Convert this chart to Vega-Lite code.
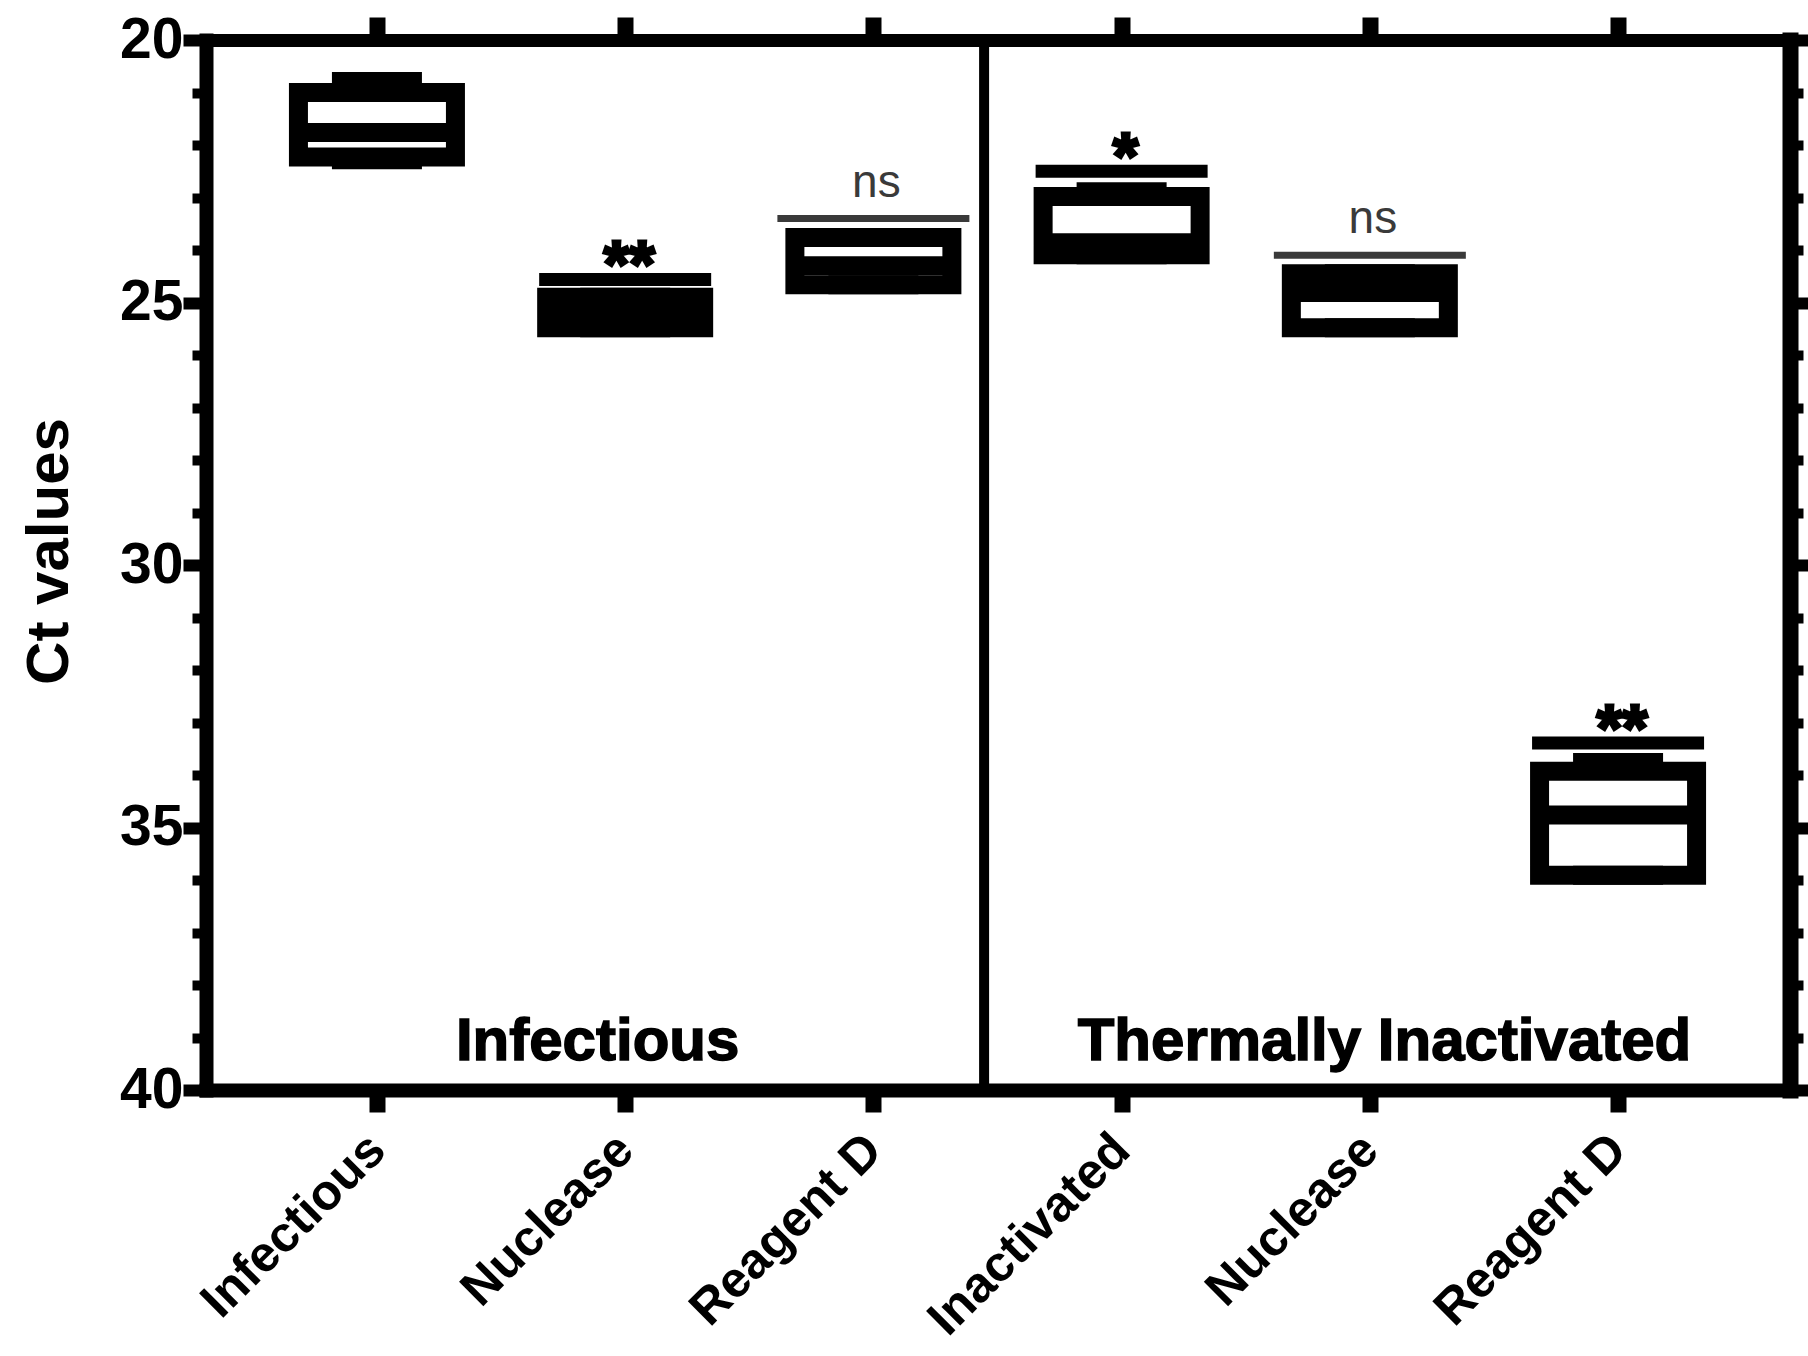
{
  "$schema": "https://vega.github.io/schema/vega-lite/v6.json",
  "width": 1584,
  "height": 1050,
  "autosize": "none",
  "padding": {"left": 206, "top": 40, "right": 18, "bottom": 266},
  "background": "white",
  "config": {
    "view": {"stroke": null},
    "font": "Liberation Sans, Arial, sans-serif"
  },
  "datasets": {
    "groups": [
      {"pos": 1, "group": "Infectious", "panel": "Infectious", "min": 20.79, "q1": 21.0, "median": 21.76, "q3": 22.23, "max": 22.28, "sig": "", "sigY": null},
      {"pos": 2, "group": "Nuclease", "panel": "Infectious", "min": 24.9, "q1": 24.9, "median": 25.19, "q3": 25.48, "max": 25.48, "sig": "**", "sigY": 24.56},
      {"pos": 3, "group": "Reagent D", "panel": "Infectious", "min": 23.76, "q1": 23.76, "median": 24.3, "q3": 24.66, "max": 24.66, "sig": "ns", "sigY": 23.4},
      {"pos": 4, "group": "Inactivated", "panel": "Thermally Inactivated", "min": 22.89, "q1": 22.98, "median": 23.86, "q3": 24.09, "max": 24.09, "sig": "*", "sigY": 22.5},
      {"pos": 5, "group": "Nuclease", "panel": "Thermally Inactivated", "min": 24.45, "q1": 24.45, "median": 24.81, "q3": 25.48, "max": 25.48, "sig": "ns", "sigY": 24.1},
      {"pos": 6, "group": "Reagent D", "panel": "Thermally Inactivated", "min": 33.76, "q1": 33.93, "median": 34.76, "q3": 35.91, "max": 35.91, "sig": "**", "sigY": 33.39}
    ]
  },
  "layer": [
    {
      "data": {"name": "groups"},
      "mark": {"type": "rule", "color": "black", "strokeWidth": 19},
      "encoding": {
        "x": {
          "field": "pos", "type": "quantitative",
          "scale": {"domain": [0.3315, 6.6725], "nice": false, "zero": false},
          "axis": {
            "orient": "bottom", "title": null, "values": [1, 2, 3, 4, 5, 6], "grid": false,
            "domainColor": "black", "domainWidth": 14, "domainCap": "square",
            "tickColor": "black", "tickWidth": 16, "tickSize": 22,
            "labelExpr": "['Infectious','Nuclease','Reagent D','Inactivated','Nuclease','Reagent D'][datum.value - 1]",
            "labelAngle": -45, "labelAlign": "right", "labelBaseline": "middle",
            "labelFontSize": 50, "labelFontWeight": "bold", "labelColor": "black", "labelLimit": 2000,
            "labelPadding": 30, "labelDx": 12, "labelFlush": false, "labelOverlap": false, "labelBound": false
          }
        },
        "y": {
          "field": "min", "type": "quantitative",
          "scale": {"domain": [20, 40], "reverse": true, "nice": false, "zero": false},
          "axis": {
            "orient": "left", "values": [20, 21, 22, 23, 24, 25, 26, 27, 28, 29, 30, 31, 32, 33, 34, 35, 36, 37, 38, 39, 40],
            "grid": false,
            "domainColor": "black", "domainWidth": 14, "domainCap": "square",
            "tickColor": "black",
            "tickSize": {"condition": {"test": "datum.value % 5 !== 0", "value": 14}, "value": 23},
            "tickWidth": {"condition": {"test": "datum.value % 5 !== 0", "value": 10}, "value": 12},
            "labelExpr": "datum.value % 5 === 0 ? datum.label : ''",
            "labelFontSize": 57, "labelFontWeight": "bold", "labelColor": "black",
            "labelPadding": 0, "labelFlush": false, "labelOverlap": false, "labelBound": false,
            "title": "Ct values", "titleFontSize": 60, "titleFontWeight": "bold", "titleColor": "black",
            "titleAngle": -90, "titleAlign": "center", "titleBaseline": "alphabetic",
            "titleX": -139, "titleY": 511
          }
        },
        "y2": {"field": "max"}
      }
    },
    {
      "data": {"name": "groups"},
      "mark": {"type": "bar", "orient": "vertical", "width": 157, "fill": "white", "stroke": "black", "strokeWidth": 19, "strokeJoin": "miter"},
      "encoding": {
        "x": {
          "field": "pos", "type": "quantitative",
          "scale": {"domain": [0.3315, 6.6725], "nice": false, "zero": false},
          "axis": {
            "orient": "top", "title": null, "values": [1, 2, 3, 4, 5, 6], "grid": false, "labels": false,
            "domainColor": "black", "domainWidth": 13, "domainCap": "square",
            "tickColor": "black", "tickWidth": 16, "tickSize": 23
          }
        },
        "y": {
          "field": "q1", "type": "quantitative",
          "scale": {"domain": [20, 40], "reverse": true, "nice": false, "zero": false},
          "axis": {
            "orient": "right", "title": null, "labels": false, "grid": false,
            "values": [20, 21, 22, 23, 24, 25, 26, 27, 28, 29, 30, 31, 32, 33, 34, 35, 36, 37, 38, 39, 40],
            "domainColor": "black", "domainWidth": 16, "domainCap": "square",
            "tickColor": "black",
            "tickSize": {"condition": {"test": "datum.value % 5 !== 0", "value": 13}, "value": 23},
            "tickWidth": {"condition": {"test": "datum.value % 5 !== 0", "value": 10}, "value": 12}
          }
        },
        "y2": {"field": "q3"}
      }
    },
    {
      "data": {"name": "groups"},
      "mark": {"type": "tick", "orient": "horizontal", "color": "black", "size": 157, "thickness": 19, "opacity": 1},
      "encoding": {
        "x": {"field": "pos", "type": "quantitative", "axis": null},
        "y": {"field": "median", "type": "quantitative", "axis": null}
      }
    },
    {
      "data": {"name": "groups"},
      "mark": {"type": "tick", "orient": "horizontal", "color": "black", "size": 90, "thickness": 19, "opacity": 1},
      "encoding": {
        "x": {"field": "pos", "type": "quantitative", "axis": null},
        "y": {"field": "min", "type": "quantitative", "axis": null}
      }
    },
    {
      "data": {"name": "groups"},
      "mark": {"type": "tick", "orient": "horizontal", "color": "black", "size": 90, "thickness": 19, "opacity": 1},
      "encoding": {
        "x": {"field": "pos", "type": "quantitative", "axis": null},
        "y": {"field": "max", "type": "quantitative", "axis": null}
      }
    },
    {
      "data": {"name": "groups"},
      "transform": [{"filter": "datum.sig === '*' || datum.sig === '**'"}],
      "mark": {"type": "tick", "orient": "horizontal", "color": "black", "size": 172, "thickness": 13, "opacity": 1},
      "encoding": {
        "x": {"field": "pos", "type": "quantitative", "axis": null},
        "y": {"field": "sigY", "type": "quantitative", "axis": null}
      }
    },
    {
      "data": {"name": "groups"},
      "transform": [{"filter": "datum.sig === 'ns'"}],
      "mark": {"type": "tick", "orient": "horizontal", "color": "#3a3a3a", "size": 192, "thickness": 7, "opacity": 1},
      "encoding": {
        "x": {"field": "pos", "type": "quantitative", "axis": null},
        "y": {"field": "sigY", "type": "quantitative", "axis": null}
      }
    },
    {
      "data": {"name": "groups"},
      "transform": [{"filter": "datum.sig === '*' || datum.sig === '**'"}],
      "mark": {"type": "text", "color": "black", "fontSize": 66, "fontWeight": "bold", "align": "center", "baseline": "alphabetic", "dy": 8, "dx": 4, "stroke": "black", "strokeWidth": 3},
      "encoding": {
        "x": {"field": "pos", "type": "quantitative", "axis": null},
        "y": {"field": "sigY", "type": "quantitative", "axis": null},
        "text": {"field": "sig"}
      }
    },
    {
      "data": {"name": "groups"},
      "transform": [{"filter": "datum.sig === 'ns'"}],
      "mark": {"type": "text", "color": "#3a3a3a", "fontSize": 46, "fontWeight": "normal", "align": "center", "baseline": "alphabetic", "dy": -22, "dx": 3},
      "encoding": {
        "x": {"field": "pos", "type": "quantitative", "axis": null},
        "y": {"field": "sigY", "type": "quantitative", "axis": null},
        "text": {"field": "sig"}
      }
    },
    {
      "data": {"values": [{"boundary": "panel divider"}]},
      "mark": {"type": "rule", "color": "black", "strokeWidth": 10},
      "encoding": {
        "x": {"datum": 3.446, "type": "quantitative", "axis": null},
        "y": {"datum": 20, "type": "quantitative", "axis": null},
        "y2": {"datum": 40}
      }
    },
    {
      "data": {"values": [{"panel": "Infectious"}]},
      "mark": {"type": "text", "color": "black", "fontSize": 60, "fontWeight": "bold", "align": "center", "baseline": "alphabetic", "stroke": "black", "strokeWidth": 1.5},
      "encoding": {
        "x": {"datum": 1.889, "type": "quantitative", "axis": null},
        "y": {"datum": 39.43, "type": "quantitative", "axis": null},
        "text": {"field": "panel"}
      }
    },
    {
      "data": {"values": [{"panel": "Thermally Inactivated"}]},
      "mark": {"type": "text", "color": "black", "fontSize": 60, "fontWeight": "bold", "align": "center", "baseline": "alphabetic", "stroke": "black", "strokeWidth": 1.5},
      "encoding": {
        "x": {"datum": 5.059, "type": "quantitative", "axis": null},
        "y": {"datum": 39.43, "type": "quantitative", "axis": null},
        "text": {"field": "panel"}
      }
    }
  ],
  "resolve": {"axis": {"x": "independent", "y": "independent"}}
}
